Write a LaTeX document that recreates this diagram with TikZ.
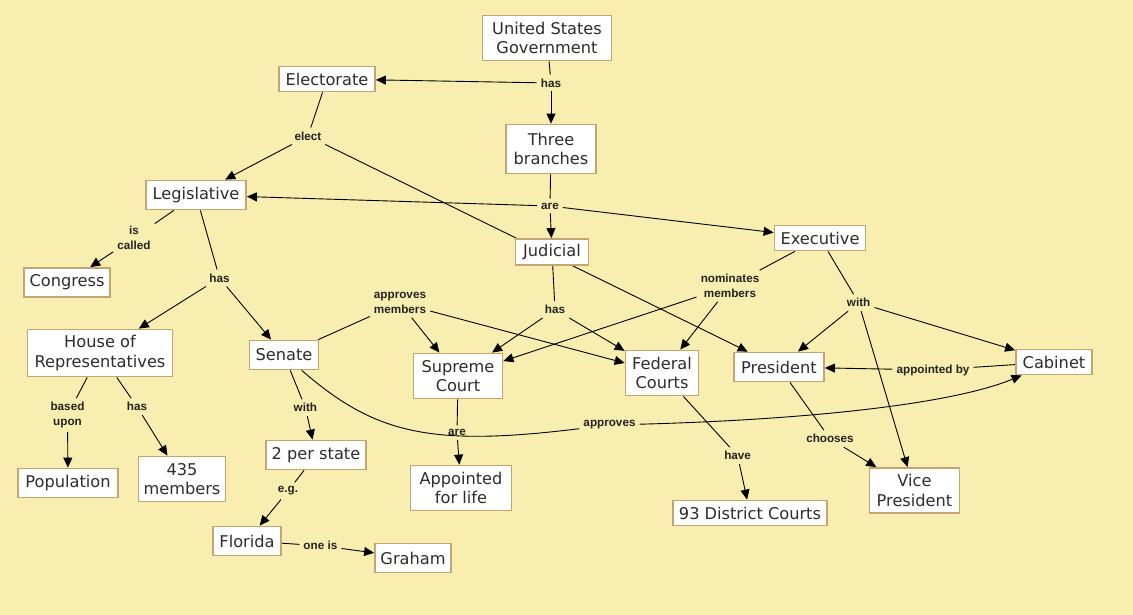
\documentclass[tikz,border=0pt]{standalone}
\usepackage{fontspec}
\setmainfont{DejaVu Sans}
\newfontfamily\lblfont{Liberation Sans}
\usetikzlibrary{arrows.meta}
\definecolor{bgc}{RGB}{248,238,176}
\definecolor{bord}{RGB}{196,164,114}
\definecolor{txt}{RGB}{45,45,45}
\definecolor{lbltxt}{RGB}{35,35,35}
\pgfdeclarelayer{bgl}
\pgfdeclarelayer{edges}
\pgfsetlayers{bgl,edges,main}
\begin{document}
\begin{tikzpicture}[x=1pt,y=-1pt,
  box/.style={draw=bord, line width=1.8pt, fill=white, text=txt,
    font=\fontsize{16.2}{19.5}\selectfont, align=center, inner sep=0pt},
  lbl/.style={font=\lblfont\bfseries\fontsize{11.7}{14.5}\selectfont, text=lbltxt,
    align=center, inner sep=4pt},
  con/.style={draw=black, line width=0.9pt},
  arr/.style={con, -{Triangle[length=10pt,width=9pt]}}]
\useasboundingbox (0,0) rectangle (1133,615);
\begin{pgfonlayer}{bgl}
\fill[bgc] (0,0) rectangle (1133,615);
\end{pgfonlayer}

% concept nodes
\node[box, minimum width=129pt, minimum height=45pt] (usg) at (547,38) {United States\\Government};
\node[box, minimum width=96pt, minimum height=25pt] (electorate) at (327,79) {Electorate};
\node[box, minimum width=90pt, minimum height=49pt] (three) at (551,149) {Three\\branches};
\node[box, minimum width=100pt, minimum height=29pt] (legis) at (196,195) {Legislative};
\node[box, minimum width=73pt, minimum height=26pt] (judicial) at (552,252) {Judicial};
\node[box, minimum width=91pt, minimum height=25pt] (exec) at (820,238) {Executive};
\node[box, minimum width=86pt, minimum height=29pt] (congress) at (67,282.5) {Congress};
\node[box, minimum width=145pt, minimum height=47pt] (house) at (100,353) {House of\\Representatives};
\node[box, minimum width=69pt, minimum height=29pt] (senate) at (284,355) {Senate};
\node[box, minimum width=89pt, minimum height=45pt] (supreme) at (458,376) {Supreme\\Court};
\node[box, minimum width=73pt, minimum height=45pt] (federal) at (662,373) {Federal\\Courts};
\node[box, minimum width=90pt, minimum height=29pt] (pres) at (779,367) {President};
\node[box, minimum width=76pt, minimum height=25pt] (cabinet) at (1054,362) {Cabinet};
\node[box, minimum width=100pt, minimum height=29pt] (pop) at (68,483) {Population};
\node[box, minimum width=87pt, minimum height=45pt] (n435) at (182,479) {435\\members};
\node[box, minimum width=100pt, minimum height=29pt] (perstate) at (316,455) {2 per state};
\node[box, minimum width=101pt, minimum height=45pt] (appointed) at (461,488) {Appointed\\for life};
\node[box, minimum width=68pt, minimum height=29pt] (florida) at (247,541) {Florida};
\node[box, minimum width=76pt, minimum height=29pt] (graham) at (413,558) {Graham};
\node[box, minimum width=90pt, minimum height=45pt] (vp) at (914.5,490.5) {Vice\\President};
\node[box, minimum width=154pt, minimum height=25pt] (district) at (750,513) {93 District Courts};

% link labels
\node[lbl] (l-has1) at (551,83) {has};
\node[lbl] (l-elect) at (308,136) {elect};
\node[lbl] (l-are) at (550,206) {are};
\node[lbl] (l-iscalled) at (134,238) {is\\called};
\node[lbl] (l-has2) at (219.5,278) {has};
\node[lbl] (l-has4) at (555,309.5) {has};
\node[lbl] (l-nom) at (730,286) {nominates\\members};
\node[lbl] (l-with2) at (858.6,302.7) {with};
\node[lbl] (l-appmem) at (400,303) {approves\\members};
\node[lbl] (l-appby) at (933,370) {appointed by};
\node[lbl] (l-approves) at (609.5,425) {approves};
\node[lbl] (l-chooses) at (830,438.7) {chooses};
\node[lbl] (l-have) at (737.6,455.7) {have};
\node[lbl] (l-are2) at (457,432.7) {are};
\node[lbl] (l-based) at (67.5,415) {based\\upon};
\node[lbl] (l-has3) at (137,406.7) {has};
\node[lbl] (l-with1) at (305.4,407.7) {with};
\node[lbl] (l-eg) at (288,491) {e.g.};
\node[lbl] (l-oneis) at (320.4,545.7) {one is};

\begin{pgfonlayer}{edges}
\draw[con] (usg) -- (l-has1);
\draw[arr] (l-has1) -- (electorate);
\draw[arr] (l-has1) -- (three);
\draw[con] (electorate) -- (l-elect);
\draw[arr] (l-elect) -- (legis);
\draw[arr] (l-elect) -- (pres);
\draw[con] (three) -- (l-are);
\draw[arr] (l-are) -- (legis);
\draw[arr] (l-are) -- (judicial);
\draw[arr] (l-are) -- (exec);
\draw[con] (legis) -- (l-iscalled);
\draw[arr] (l-iscalled) -- (congress);
\draw[con] (legis) -- (l-has2);
\draw[arr] (l-has2) -- (house);
\draw[arr] (l-has2) -- (senate);
\draw[con] (house) -- (l-based);
\draw[arr] (l-based) -- (pop);
\draw[con] (house) -- (l-has3);
\draw[arr] (l-has3) -- (n435);
\draw[con] (senate) -- (l-with1);
\draw[arr] (l-with1) -- (perstate);
\draw[con] (perstate) -- (l-eg);
\draw[arr] (l-eg) -- (florida);
\draw[con] (florida) -- (l-oneis);
\draw[arr] (l-oneis) -- (graham);
\draw[con] (senate) -- (l-appmem);
\draw[arr] (l-appmem) -- (supreme);
\draw[arr] (l-appmem) -- (federal);
\draw[con] (senate) .. controls (375,434) and (430,447) .. (l-approves);
\draw[arr] (l-approves) .. controls (800,420) and (950,405) .. (cabinet);
\draw[con] (judicial) -- (l-has4);
\draw[arr] (l-has4) -- (supreme);
\draw[arr] (l-has4) -- (federal);
\draw[con] (supreme) -- (l-are2);
\draw[arr] (l-are2) -- (appointed);
\draw[con] (federal) -- (l-have);
\draw[arr] (l-have) -- (district);
\draw[con] (exec) -- (l-nom);
\draw[arr] (l-nom) -- (supreme);
\draw[arr] (l-nom) -- (federal);
\draw[con] (exec) -- (l-with2);
\draw[arr] (l-with2) -- (pres);
\draw[arr] (l-with2) -- (cabinet);
\draw[arr] (l-with2) -- (vp);
\draw[con] (cabinet) -- (l-appby);
\draw[arr] (l-appby) -- (pres);
\draw[con] (pres) -- (l-chooses);
\draw[arr] (l-chooses) -- (vp);
\end{pgfonlayer}
\end{tikzpicture}
\end{document}
